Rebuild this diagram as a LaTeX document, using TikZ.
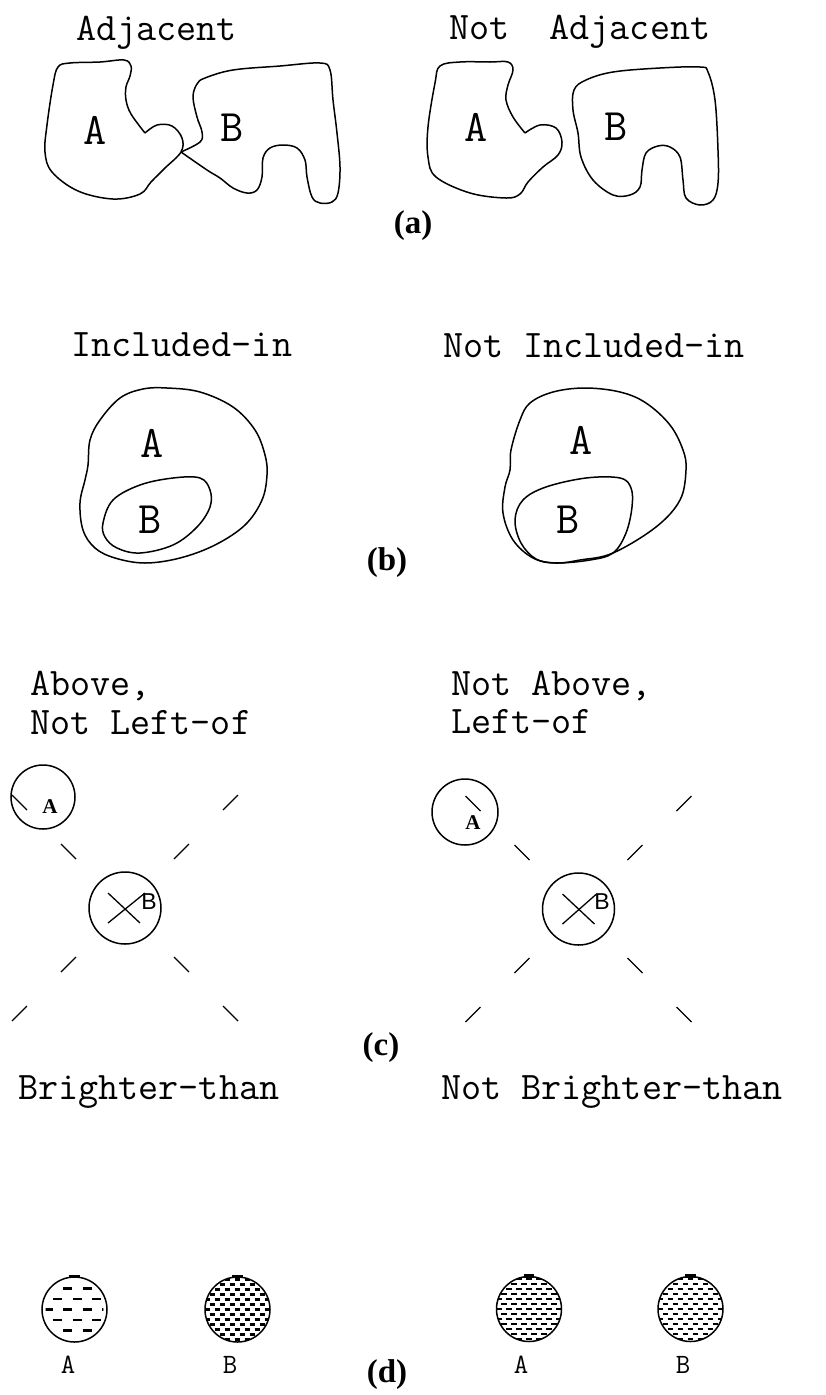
\documentclass[tikz,border=0pt]{standalone}
\usepackage{fontspec}
\newfontfamily\lblfont{Liberation Serif}
\newfontfamily\hvfont{Liberation Sans}
\begin{document}
\begin{tikzpicture}[x=1pt,y=-1pt,
  outline/.style={line width=1.5pt, line join=round},
  title/.style={font=\ttfamily\fontsize{39}{47}\selectfont, anchor=base west, inner sep=0pt},
  letter/.style={font=\ttfamily\fontsize{45}{50}\selectfont, inner sep=0pt},
  dlabel/.style={font=\ttfamily\fontsize{28}{32}\selectfont, inner sep=0pt},
  sublabel/.style={font=\lblfont\bfseries\fontsize{33}{37}\selectfont, inner sep=0pt},
  smallA/.style={font=\lblfont\bfseries\fontsize{21}{24}\selectfont, inner sep=0pt},
  smallB/.style={font=\hvfont\fontsize{23}{26}\selectfont, inner sep=0pt},
  tick/.style={line width=1.3pt},
  ring/.style={circle, draw, line width=1.5pt, inner sep=0pt},
  blob/.style={line width=3.5pt},
]
\useasboundingbox (0,0) rectangle (826,1395);

% ---------------- (a) ----------------
\node[title] (tAdj) at (76,40) {Adjacent};
\node[title] (tNAdj) at (449,39) {Not\ \ Adjacent};

\draw[outline] plot[smooth, tension=0.6] coordinates {(145,133) (157,125) (172,126) (182,138) (181,152) (165,168) (151,182) (140,194) (113,199) (78,191) (52,172) (45,152) (47,125) (53,85) (58,67) (70,63) (100,62) (124,60) (131,66) (130,76) (126,87) (126,100) (131,114) (145,133)};
\draw[outline] plot[smooth, tension=0.6] coordinates {(181,152) (200,142) (202,132) (197,117) (193,97) (197,84) (205,78) (233,70) (280,66) (320,63) (330,70) (333,100) (337,133) (340,167) (338,193) (332,202) (320,203) (312,197) (307,177) (305,160) (297,148) (283,145) (270,148) (263,158) (262,177) (257,190) (247,193) (233,188) (220,178) (207,170) (181,152)};
\node[letter] (aA1) at (95,130) {A};
\node[letter] (aB1) at (232,128) {B};

\draw[outline] plot[smooth, tension=0.6] coordinates {(525,133) (540,125) (556,128) (562,142) (558,155) (543,167) (528,182) (520,194) (506,198) (470,193) (436,177) (428,157) (428,127) (435,83) (440,66) (460,62) (490,62) (508,62) (513,70) (508,85) (506,100) (513,117) (525,133)};
\draw[outline] plot[smooth cycle, tension=0.6] coordinates {(573,110) (574,90) (586,80) (613,72) (660,68) (700,67) (708,72) (715,100) (718,150) (718,183) (713,200) (700,205) (686,198) (683,180) (680,157) (670,147) (658,146) (646,153) (642,170) (640,187) (630,195) (613,195) (593,180) (581,157) (578,133)};
\node[letter] (aA2) at (476,127) {A};
\node[letter] (aB2) at (616,127) {B};

\node[sublabel] (la) at (413,226) {(a)};

% ---------------- (b) ----------------
\node[title] (tInc) at (71,356) {Included-in};
\node[title] (tNInc) at (443,357) {Not Included-in};

\draw[outline] plot[smooth cycle, tension=0.6] coordinates {(167,388) (200,392) (233,407) (255,430) (265,455) (267,475) (262,500) (245,525) (215,545) (180,558) (145,563) (115,558) (95,548) (83,530) (80,503) (85,480) (88,465) (90,440) (100,420) (120,398) (143,389)};
\draw[outline] plot[smooth cycle, tension=0.6] coordinates {(103,523) (113,500) (140,485) (173,478) (200,478) (210,490) (210,507) (197,527) (173,545) (140,553) (117,548) (105,537)};
\node[letter] (bA1) at (152,443) {A};
\node[letter] (bB1) at (150,520) {B};

\draw[outline] plot[smooth cycle, tension=0.6] coordinates {(585,388) (620,392) (646,403) (670,425) (683,450) (686,470) (680,500) (656,527) (613,553) (580,560) (556,563) (533,558) (513,540) (503,513) (505,487) (510,470) (511,450) (520,420) (530,403) (553,392)};
\draw[outline] plot[smooth cycle, tension=0.6] coordinates {(515,520) (523,500) (546,487) (586,478) (620,478) (631,488) (632,507) (626,533) (613,553) (590,560) (556,563) (536,559) (521,543)};
\node[letter] (bA2) at (581,440) {A};
\node[letter] (bB2) at (568,520) {B};

\node[sublabel] (lb) at (387,563) {(b)};

% ---------------- (c) ----------------
\node[title] (tAb1) at (30,695) {Above,};
\node[title] (tAb2) at (30,734) {Not Left-of};
\node[title] (tNAb1) at (451,695) {Not Above,};
\node[title] (tNAb2) at (451,733) {Left-of};

\coordinate (BL) at (125,908);
\node[ring, minimum size=72pt] (cBL) at (BL) {};
\node[ring, minimum size=64pt] (cAL) at (43,797) {};
\draw[tick] (BL) ++(-17,-15) -- ++(32,30);
\draw[tick] (BL) ++(-17,15) -- ++(37,-30);
\foreach \sx/\sy in {-1/-1,1/-1,-1/1,1/1}
  \foreach \d in {49,98}
    \draw[tick] (BL) ++(\sx*\d,\sy*\d) -- ++(\sx*15,\sy*15);
\node[smallA] (cAl) at (50,807) {A};
\node[smallB] (cBl) at (149,902) {B};

\coordinate (BR) at (578.5,909);
\node[ring, minimum size=72pt] (cBR) at (BR) {};
\node[ring, minimum size=66pt] (cAR) at (465,812) {};
\draw[tick] (BR) ++(-16,-15) -- ++(32,30);
\draw[tick] (BR) ++(-16,15) -- ++(34,-30);
\foreach \sx/\sy in {-1/-1,1/-1,-1/1,1/1}
  \foreach \d in {49,98}
    \draw[tick] (BR) ++(\sx*\d,\sy*\d) -- ++(\sx*15,\sy*15);
\node[smallA] (cAr) at (473,823) {A};
\node[smallB] (cBr) at (602,902) {B};

\node[sublabel] (lc) at (381,1048) {(c)};

% ---------------- (d) ----------------
\node[title] (tBr) at (18,1099) {Brighter-than};
\node[title] (tNBr) at (441,1099) {Not Brighter-than};

% sparse (brighter) circle
\node[ring, minimum size=65pt] (dA1) at (74.5,1309.5) {};
\begin{scope}
  \clip (74.5,1309.5) circle[radius=29];
  \foreach \r in {-3,...,3}
    \foreach \c in {-3,...,3}
      \draw[line width=2.8pt] ({74.5+\c*19.5-7+9.75*mod(\r+10,2)-4.5},{1309.5+\r*10.5}) -- ++(9,0);
\end{scope}
\draw[blob] (dA1.99) -- (dA1.81);

% dense circles
\foreach \nm/\cx/\cy in {dB1/237.5/1309.5, dA2/529/1309, dB2/690.5/1309} {
  \node[ring, minimum size=65pt] (\nm) at (\cx,\cy) {};
  \begin{scope}
    \clip (\cx,\cy) circle[radius=32.5];
    \foreach \r in {-7,...,7}
      \foreach \c in {-4,...,4}
        \draw[line width=2.4pt] ({\cx+\c*10+5*mod(\r+10,2)-2.8},{\cy+\r*5}) -- ++(5.6,0);
  \end{scope}
  \draw[blob] (\nm.99) -- (\nm.81);
}

\node[dlabel] (dlA1) at (68,1365) {A};
\node[dlabel] (dlB1) at (230,1365) {B};
\node[dlabel] (dlA2) at (521,1365) {A};
\node[dlabel] (dlB2) at (683,1365) {B};

\node[sublabel] (ld) at (387,1375) {(d)};
\end{tikzpicture}
\end{document}
